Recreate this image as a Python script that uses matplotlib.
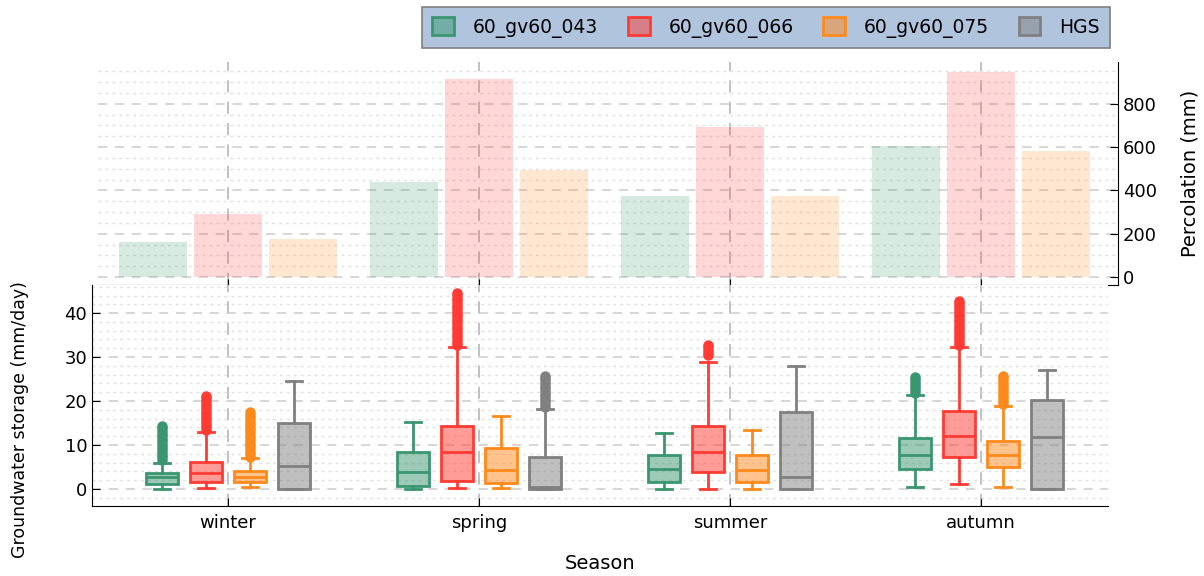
import matplotlib
matplotlib.use('Agg')
import matplotlib.pyplot as plt
from matplotlib.patches import Patch
from matplotlib.ticker import MultipleLocator
from matplotlib.colors import to_rgba

# ---------------- data ----------------
seasons = ['winter', 'spring', 'summer', 'autumn']
series = ['60_gv60_043', '60_gv60_066', '60_gv60_075', 'HGS']
colors = ['#3a9670', '#ff3b33', '#ff8a1c', '#808080']

# Percolation (mm) per season (top panel)
perc_043 = [162, 439, 372, 605]
perc_066 = [291, 915, 693, 947]
perc_075 = [175, 494, 374, 580]

# Groundwater storage box statistics (mm/day) per season
gv043_whislo = [0.0, 0.0, 0.0, 0.5]
gv043_q1 = [1.1, 0.75, 1.5, 4.5]
gv043_med = [2.65, 3.8, 4.5, 7.65]
gv043_q3 = [3.6, 8.3, 7.7, 11.5]
gv043_whishi = [6.0, 15.2, 12.8, 21.4]
gv043_fliers = [
    [6.6, 7.2, 7.8, 8.4, 9.0, 9.6, 10.2, 10.8, 11.4, 12.0, 12.6, 13.2, 13.8, 14.3],
    [],
    [],
    [21.9, 22.5, 23.1, 23.7, 24.3, 24.9, 25.4],
]

gv066_whislo = [0.15, 0.15, 0.0, 1.1]
gv066_q1 = [1.5, 1.7, 3.9, 7.2]
gv066_med = [3.6, 8.3, 8.5, 12.0]
gv066_q3 = [6.2, 14.2, 14.4, 17.8]
gv066_whishi = [13.0, 32.3, 28.8, 32.3]
gv066_fliers = [
    [13.4, 14.0, 14.6, 15.2, 15.8, 16.4, 17.0, 17.6, 18.2, 18.8, 19.4, 20.0, 20.6, 21.2],
    [32.7, 33.3, 33.9, 34.5, 35.1, 35.7, 36.3, 36.9, 37.5, 38.1, 38.7, 39.3, 39.9,
     40.5, 41.1, 41.7, 42.3, 42.9, 43.5, 44.1, 44.6],
    [30.4, 31.0, 31.6, 32.2, 32.7],
    [32.7, 33.3, 33.9, 34.5, 35.1, 35.7, 36.3, 36.9, 37.5, 38.1, 38.7, 39.3, 39.9,
     40.5, 41.1, 41.7, 42.2, 42.7],
]

gv075_whislo = [0.4, 0.3, 0.0, 0.4]
gv075_q1 = [1.5, 1.3, 1.5, 4.9]
gv075_med = [2.8, 4.3, 4.2, 7.6]
gv075_q3 = [4.0, 9.2, 7.6, 11.0]
gv075_whishi = [7.0, 16.6, 13.5, 18.9]
gv075_fliers = [
    [7.3, 7.9, 8.5, 9.1, 9.7, 10.3, 10.9, 11.5, 12.1, 12.7, 13.3, 13.9, 14.5, 15.1,
     15.7, 16.3, 16.9, 17.5],
    [],
    [],
    [19.4, 20.0, 20.6, 21.2, 21.8, 22.4, 23.0, 23.6, 24.2, 24.8, 25.4, 25.8],
]

hgs_whislo = [0.0, 0.0, 0.0, 0.0]
hgs_q1 = [0.0, 0.0, 0.0, 0.0]
hgs_med = [5.3, 0.5, 2.8, 11.7]
hgs_q3 = [14.9, 7.3, 17.6, 20.2]
hgs_whishi = [24.5, 18.2, 28.0, 27.0]
hgs_fliers = [
    [],
    [18.7, 19.3, 19.9, 20.5, 21.1, 21.7, 22.3, 22.9, 23.5, 24.1, 24.7, 25.3, 25.7],
    [],
    [],
]

box_data = [
    (gv043_whislo, gv043_q1, gv043_med, gv043_q3, gv043_whishi, gv043_fliers),
    (gv066_whislo, gv066_q1, gv066_med, gv066_q3, gv066_whishi, gv066_fliers),
    (gv075_whislo, gv075_q1, gv075_med, gv075_q3, gv075_whishi, gv075_fliers),
    (hgs_whislo, hgs_q1, hgs_med, hgs_q3, hgs_whishi, hgs_fliers),
]
bar_data = [perc_043, perc_066, perc_075]

# ---------------- figure ----------------
plt.rcParams['font.family'] = ['DejaVu Sans']
W, H = 1204, 576
fig = plt.figure(figsize=(W / 100, H / 100), dpi=100)

ax_top = fig.add_axes([98 / W, 1 - 285 / H, 1020 / W, 223 / H])
ax_bot = fig.add_axes([92 / W, 1 - 506 / H, 1016 / W, 221 / H])

x_idx = list(range(len(seasons)))

# ---- top: bars ----
for j, vals in enumerate(bar_data):
    pos = [i + (j - 1) * 0.3 for i in x_idx]
    ax_top.bar(pos, vals, width=0.27, color=colors[j], alpha=0.2, linewidth=0, zorder=2)

ax_top.set_xlim(-0.518, 3.546)
ax_top.set_ylim(-37, 993)
ax_top.set_xticks(x_idx)
ax_top.set_xticklabels([])
ax_top.yaxis.tick_right()
ax_top.yaxis.set_label_position('right')
ax_top.yaxis.set_major_locator(MultipleLocator(200))
ax_top.yaxis.set_minor_locator(MultipleLocator(50))
ax_top.spines['left'].set_visible(False)
ax_top.spines['top'].set_visible(False)
ax_top.tick_params(axis='y', which='major', direction='in', length=6, labelsize=13, right=True, left=False)
ax_top.tick_params(axis='y', which='minor', length=0)
ax_top.tick_params(axis='x', direction='inout', length=8)
ax_top.set_ylabel('Percolation (mm)', fontsize=14, labelpad=17)
ax_top.grid(True, axis='y', which='major', color='#cccccc', ls=(0, (6, 5)), lw=1.1, zorder=0)
ax_top.grid(True, axis='y', which='minor', color='#e0e0e0', ls=(0, (2, 3)), lw=1.0, zorder=0)
ax_top.grid(True, axis='x', which='major', color='#b0b0b0', ls=(0, (8, 6)), lw=1.1, zorder=0)
ax_top.patch.set_alpha(0)

# ---- bottom: boxes ----
box_w = 0.127
for j, (wl, q1, md, q3, wh, fl) in enumerate(box_data):
    c = colors[j]
    stats = []
    for i in x_idx:
        stats.append(dict(whislo=wl[i], q1=q1[i], med=md[i], q3=q3[i], whishi=wh[i], fliers=fl[i]))
    pos = [i + (j - 1.5) * 0.175 for i in x_idx]
    ax_bot.bxp(stats, positions=pos, widths=box_w, patch_artist=True, manage_ticks=False,
               capwidths=box_w * 0.5,
               boxprops=dict(facecolor=to_rgba(c, 0.5), edgecolor=c, linewidth=2),
               medianprops=dict(color=c, linewidth=2),
               whiskerprops=dict(color=c, linewidth=2),
               capprops=dict(color=c, linewidth=2),
               flierprops=dict(marker='o', markerfacecolor=c, markeredgecolor=c, markersize=6.5),
               zorder=3)

ax_bot.set_xlim(-0.542, 3.506)
ax_bot.set_ylim(-3.9, 46.4)
ax_bot.set_xticks(x_idx)
ax_bot.set_xticklabels(seasons, fontsize=13)
ax_bot.yaxis.set_major_locator(MultipleLocator(10))
ax_bot.yaxis.set_minor_locator(MultipleLocator(2))
ax_bot.spines['top'].set_visible(False)
ax_bot.spines['right'].set_visible(False)
ax_bot.tick_params(axis='both', which='major', direction='in', length=6, labelsize=13)
ax_bot.tick_params(axis='x', which='major', pad=5.5)
ax_bot.tick_params(axis='y', which='minor', length=0)
ax_bot.grid(True, axis='y', which='major', color='#cccccc', ls=(0, (6, 5)), lw=1.1, zorder=0)
ax_bot.grid(True, axis='y', which='minor', color='#e0e0e0', ls=(0, (2, 3)), lw=1.0, zorder=0)
ax_bot.grid(True, axis='x', which='major', color='#b0b0b0', ls=(0, (8, 6)), lw=1.1, zorder=0)
ax_bot.set_axisbelow(True)
ax_bot.set_xlabel('Season', fontsize=14, labelpad=16)

fig.text(20 / W, 1 - 420 / H, 'Groundwater storage (mm/day)', rotation=90,
         ha='center', va='center', fontsize=12.5)

# ---- legend ----
handles = [Patch(facecolor=to_rgba(c, 0.5), edgecolor=c, linewidth=2, label=s)
           for c, s in zip(colors, series)]
leg = fig.legend(handles=handles, loc='upper right', bbox_to_anchor=(1110 / W, 1 - 7 / H),
                 borderaxespad=0, ncol=4, fontsize=13.5, frameon=True, fancybox=False,
                 framealpha=1, facecolor='#b0c4de', edgecolor='#7f7f7f',
                 handlelength=1.15, handleheight=1.1, handletextpad=1.0,
                 columnspacing=1.6, borderpad=0.55)
leg.get_frame().set_linewidth(1.2)

fig.savefig('out.png', dpi=100)
